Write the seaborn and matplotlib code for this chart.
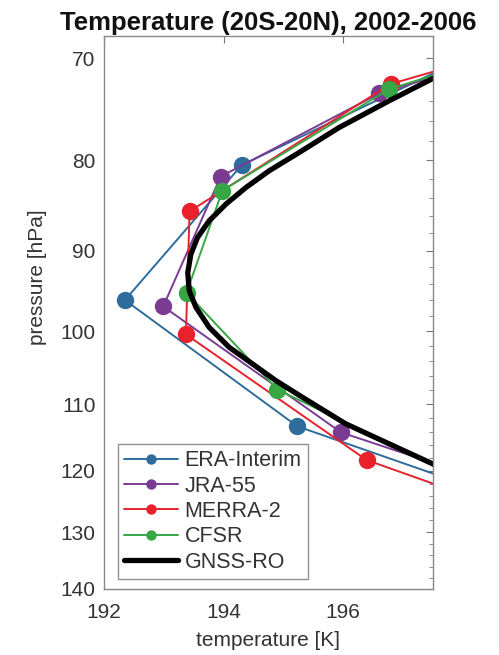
import numpy as np
import pandas as pd
import matplotlib
matplotlib.use("Agg")
import matplotlib.pyplot as plt
import seaborn as sns
from matplotlib.ticker import FixedLocator, FixedFormatter, NullFormatter

sns.set_style("white")
plt.rcParams['font.family'] = ['Liberation Sans', 'DejaVu Sans']

# ---- data (temperature [K], pressure [hPa]) ----
era_T = [199.2, 194.30, 192.35, 195.23, 200.6]
era_p = [67.0, 80.5, 96.0, 113.2, 131.0]

jra_T = [202.0, 196.6, 193.95, 192.99, 195.96, 201.0]
jra_p = [64.5, 73.3, 81.7, 96.8, 114.1, 130.0]

merra_T = [204.0, 196.79, 193.43, 193.37, 196.39, 202.2]
merra_p = [61.5, 72.4, 85.5, 100.4, 118.3, 139.0]

cfsr_T = [202.1, 196.76, 193.98, 193.38, 194.90, 198.8]
cfsr_p = [64.0, 72.9, 83.2, 95.1, 107.9, 125.0]

gnss_T = [198.0, 197.475, 196.758, 195.925, 195.258, 194.758, 194.370, 194.037,
          193.758, 193.563, 193.453, 193.400, 193.425, 193.537, 193.758, 194.092,
          194.480, 194.870, 195.313, 196.037, 196.758, 197.475, 198.1]
gnss_p = [70.5, 71.94, 74.03, 76.65, 79.19, 81.10, 82.89, 84.70,
          86.56, 88.47, 90.40, 92.63, 94.83, 96.91, 99.48, 102.10,
          104.33, 106.63, 108.97, 112.82, 115.79, 118.81, 122.0]

series = [
    ("ERA-Interim", era_T, era_p, "#2e6c9c"),
    ("JRA-55", jra_T, jra_p, "#7a3c92"),
    ("MERRA-2", merra_T, merra_p, "#e8212b"),
    ("CFSR", cfsr_T, cfsr_p, "#37a644"),
]

yticks = [70, 80, 90, 100, 110, 120, 130, 140]
xticks = [192, 194, 196]

fig = plt.figure(figsize=(4.99, 6.55), dpi=100)
ax = fig.add_axes([0.2084, 0.1008, 0.6593, 0.8442])

for name, T, p, c in series:
    df = pd.DataFrame({"T": T, "p": p})
    sns.lineplot(data=df, x="T", y="p", sort=False, estimator=None, ax=ax,
                 color=c, lw=1.4, marker="o", markersize=12.5, markeredgewidth=0,
                 label=name)

dfg = pd.DataFrame({"T": gnss_T, "p": gnss_p})
sns.lineplot(data=dfg, x="T", y="p", sort=False, estimator=None, ax=ax,
             color="black", lw=3.8, label="GNSS-RO")
ax.lines[-1].set_solid_joinstyle("round")

ax.set_yscale("log")
ax.set_ylim(140, 68)
ax.set_xlim(192, 197.5)
ax.yaxis.set_major_locator(FixedLocator(yticks))
ax.yaxis.set_major_formatter(FixedFormatter([str(v) for v in yticks]))
ax.yaxis.set_minor_locator(FixedLocator([v for v in range(68, 141, 2) if v % 10 != 0]))
ax.yaxis.set_minor_formatter(NullFormatter())
ax.xaxis.set_major_locator(FixedLocator(xticks))
ax.xaxis.set_minor_locator(FixedLocator([]))

ax.tick_params(axis="both", which="both", direction="in", top=True, right=True,
               color="#777777", labelcolor="#333333", labelsize=15)
ax.tick_params(axis="x", which="major", pad=10)
ax.tick_params(axis="y", which="major", pad=6)
ax.tick_params(axis="both", which="major", length=5, width=0.8)
ax.tick_params(axis="both", which="minor", length=3, width=0.6)
for s in ax.spines.values():
    s.set_visible(True)
    s.set_color("#888888")
    s.set_linewidth(1.0)

ax.set_title("Temperature (20S-20N), 2002-2006", fontsize=18.5, fontweight="bold",
             pad=4, color="#111111")
ax.set_xlabel("temperature [K]", fontsize=15, color="#333333")
ax.set_ylabel("pressure [hPa]", fontsize=15, color="#333333")
ax.xaxis.set_label_coords(0.5, -0.076)
ax.yaxis.set_label_coords(-0.173, 0.564)

leg = ax.legend(loc="lower left", bbox_to_anchor=(0.042, 0.018), fontsize=15.5,
                frameon=True, fancybox=False, markerscale=0.6, handlelength=2.5,
                handletextpad=0.3, borderpad=0.3, labelspacing=0.2,
                borderaxespad=0)
leg.get_frame().set_edgecolor("#777777")
leg.get_frame().set_linewidth(1.0)
for t in leg.get_texts():
    t.set_color("#333333")

fig.savefig("out.png", dpi=100)
